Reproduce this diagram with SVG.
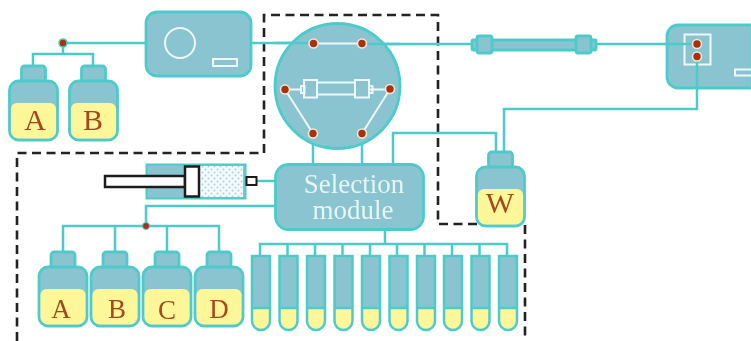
<svg xmlns="http://www.w3.org/2000/svg" width="751" height="341" viewBox="0 0 751 341">
<style>
.unit{fill:#8ac4d0;stroke:#4ecbcb;stroke-width:2.8}
.line{fill:none;stroke:#4ecbcb;stroke-width:2.5}
.white{fill:none;stroke:#eef8f8;stroke-width:2}
.port{fill:#a83208;stroke:#f3e6d8;stroke-width:1.6}
.yellow{fill:#fdf79a}
.letter{font-family:"Liberation Serif",serif;font-size:30px;fill:#a4481c;text-anchor:middle}
.title{font-family:"Liberation Serif",serif;font-size:27px;fill:#e6f5f6;text-anchor:middle}
.dash{fill:none;stroke:#222;stroke-width:2.6;stroke-dasharray:9 5.5}
.plunger{fill:#fff;stroke:#1c1c1c;stroke-width:2.5}
</style>
<defs>
<filter id="soft" filterUnits="userSpaceOnUse" x="0" y="0" width="751" height="341"><feGaussianBlur stdDeviation="0.5"/></filter>
<pattern id="dots" width="6" height="6" patternUnits="userSpaceOnUse"><rect width="6" height="6" fill="#f4fafb"/><circle cx="1.5" cy="1.5" r="1" fill="#a5d4dc"/><circle cx="4.5" cy="4.5" r="1" fill="#a5d4dc"/></pattern>
<g id="bottle">
<rect class="unit" x="12" y="-15" width="24" height="16" rx="3"/>
<rect class="unit" x="0" y="0" width="48" height="59" rx="9"/>
<path class="yellow" d="M1.400 28a6 6 0 0 1 6-6H40.600a6 6 0 0 1 6 6V50a7.600 7.600 0 0 1-7.600 7.600H9A7.600 7.600 0 0 1 1.400 50Z"/>
</g>
<g id="tube">
<path class="yellow" d="M0 52H18V65a9 9 0 0 1-18 0Z"/>
<path d="M0 0H18V52H0Z" fill="#8ac4d0"/>
<path class="line" d="M0 0H18V65a9 9 0 0 1-18 0ZM0 52H18"/>
</g>
</defs>
<rect width="751" height="341" fill="#fff"/>
<g filter="url(#soft)">
<path id="boundary" class="dash" d="M17 341V153H264V15H438V224H525V341"/>
<g id="connectors">
<path class="line" d="M63 43H146M63 43V54M33 65V54H93V65"/>
<path class="line" d="M251 43H313M362 44H472M596 44H697M697 56V109H504V152M393 164V133H496V152"/>
<path class="line" d="M313 133V164M362 133V164"/>
<path class="line" d="M257 181H275M275 206H146V226M63 251V226H219V251M115 226V251M167 226V251"/>
<path class="line" d="M385 229V244M260 256V244H507V256M287.500 244V256M315 244V256M342.500 244V256M370 244V256M397 244V256M424.500 244V256M452 244V256M479.500 244V256"/>
</g>
<g id="pump">
<rect class="unit" x="146" y="12" width="105" height="64" rx="11"/>
<circle class="white" cx="180" cy="43" r="15"/>
<rect class="white" x="213" y="59" width="24" height="7"/>
</g>
<circle id="junction-top" class="port" cx="63" cy="43" r="4" style="stroke:#4ecbcb"/>
<g id="bottle-top-a"><use href="#bottle" x="9.500" y="81"/><text class="letter" x="35" y="130">A</text></g>
<g id="bottle-top-b"><use href="#bottle" x="69.500" y="81"/><text class="letter" x="93" y="130">B</text></g>
<g id="valve">
<circle class="unit" cx="337.500" cy="86" r="62.500"/>
<path class="line" d="M275 43H313M362 44H400"/>
<path class="white" d="M313.500 43.500H362M285 89.500L313 133.500M390 89L362 133.500M285 89.500H301M369 89.500H390"/>
<rect class="white" x="301" y="86" width="3.500" height="7"/>
<rect class="white" x="304" y="80" width="13" height="17.500"/>
<rect class="white" x="317" y="82.500" width="38" height="12"/>
<rect class="white" x="355" y="80" width="14" height="17.500"/>
<rect class="white" x="369" y="86" width="3.500" height="7"/>
<circle class="port" cx="313.500" cy="43.500" r="4.500"/>
<circle class="port" cx="362" cy="43.500" r="4.500"/>
<circle class="port" cx="285" cy="89.500" r="4.500"/>
<circle class="port" cx="390" cy="89" r="4.500"/>
<circle class="port" cx="313" cy="133.500" r="4.500"/>
<circle class="port" cx="362" cy="133.500" r="4.500"/>
</g>
<g id="column">
<rect class="unit" x="472" y="40" width="124" height="10" rx="1"/>
<rect class="unit" x="477" y="36" width="15" height="17" rx="2"/>
<rect class="unit" x="576" y="36" width="15" height="17" rx="2"/>
</g>
<g id="detector">
<path class="unit" d="M752 25H678a11 11 0 0 0-11 11V77a11 11 0 0 0 11 11H752Z"/>
<rect class="white" x="684.500" y="34.500" width="26" height="30"/>
<path class="white" d="M752 69.500H735V75.500H752"/>
<path class="line" d="M667 44H697M697 56V88"/>
<circle class="port" cx="697" cy="44" r="4.500"/>
<circle class="port" cx="697" cy="56.500" r="4.500"/>
</g>
<g id="bottle-w"><use href="#bottle" x="476.500" y="167"/><text class="letter" x="500" y="213">W</text></g>
<g id="syringe">
<rect class="unit" x="146.500" y="164.500" width="99" height="34" style="stroke-width:2"/>
<rect x="199" y="166" width="44" height="31" fill="url(#dots)"/>
<rect class="plunger" x="105" y="176" width="80" height="11"/>
<rect class="plunger" x="185" y="166.500" width="14" height="30"/>
<rect class="plunger" x="246.500" y="177" width="10" height="8" style="stroke-width:2"/>
</g>
<g id="selection-module">
<rect class="unit" x="275.500" y="164.500" width="148" height="65" rx="13"/>
<text class="title" x="354" y="193">Selection</text>
<text class="title" x="353" y="219">module</text>
</g>
<circle id="junction-bottom" class="port" cx="146" cy="226" r="3.500" style="stroke:#4ecbcb;stroke-width:1"/>
<g id="bottle-a"><use href="#bottle" x="39" y="267"/><text class="letter" x="61" y="318" style="font-size:27px">A</text></g>
<g id="bottle-b"><use href="#bottle" x="91" y="267"/><text class="letter" x="117" y="318" style="font-size:27px">B</text></g>
<g id="bottle-c"><use href="#bottle" x="143" y="267"/><text class="letter" x="167" y="319" style="font-size:27px">C</text></g>
<g id="bottle-d"><use href="#bottle" x="195" y="267"/><text class="letter" x="219" y="318" style="font-size:27px">D</text></g>
<g id="tubes">
<use href="#tube" x="252" y="256"/><use href="#tube" x="279.500" y="256"/><use href="#tube" x="307" y="256"/><use href="#tube" x="334.500" y="256"/><use href="#tube" x="362" y="256"/><use href="#tube" x="389.500" y="256"/><use href="#tube" x="417" y="256"/><use href="#tube" x="444" y="256"/><use href="#tube" x="471.500" y="256"/><use href="#tube" x="499" y="256"/>
</g>
</g>
</svg>
